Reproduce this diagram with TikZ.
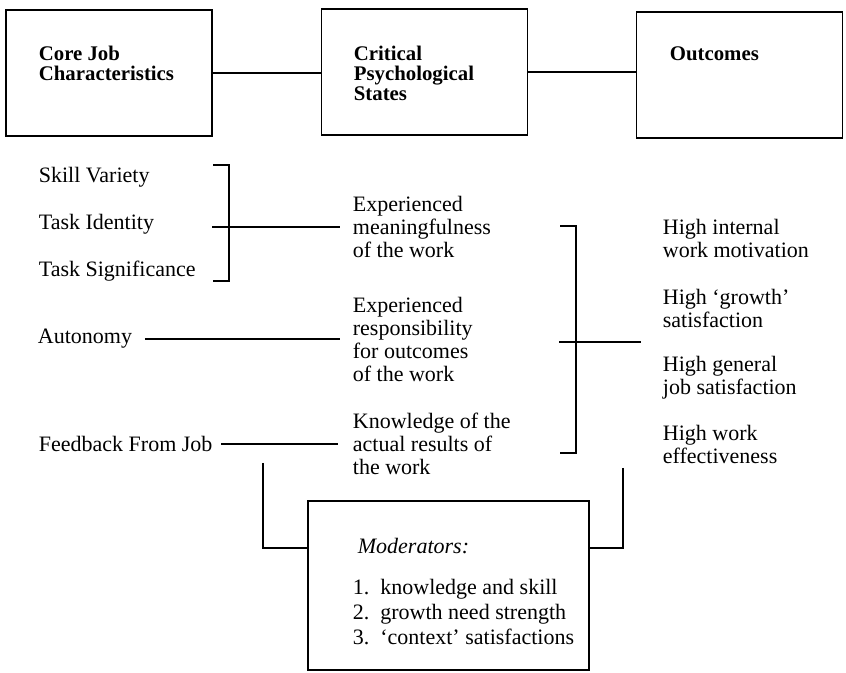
\documentclass[tikz,border=0pt]{standalone}
\usepackage{fontspec}
\setmainfont{Liberation Serif}
\usetikzlibrary{calc}

\tikzset{
  box/.style={draw, minimum width=103pt, minimum height=63pt, inner sep=0pt},
  hdr/.style={anchor=west, align=left, inner sep=0pt, font=\fontsize{10.4}{10}\selectfont\bfseries},
  txt/.style={anchor=west, align=left, inner sep=0pt, font=\fontsize{11}{11.5}\selectfont},
}

\begin{document}
\begin{tikzpicture}[x=0.5pt, y=-0.5pt, line width=0.9pt]
  \useasboundingbox (0,0) rectangle (846,673);
  % three boxes on top
  \node[box] (core) at (109,73) {};
  \node[box] (crit) at (424.5,72) {};
  \node[box] (outc) at (739.5,75) {};
  \draw (core.east) -- (core.east -| crit.west);
  \draw (crit.east) -- (crit.east -| outc.west);
  \node[hdr] (coreT) at (38,63) {Core Job\\Characteristics};
  \node[hdr] (critT) at (353,73) {Critical\\Psychological\\States};
  \node[hdr] (outcT) at (669,54) {Outcomes};

  % core job characteristics
  \node[txt] (skill) at (38,177) {Skill Variety};
  \node[txt] (ident) at (38,224) {Task Identity};
  \node[txt] (signi) at (38,271) {Task Significance};
  \node[txt] (auto) at (37,339) {Autonomy};
  \node[txt] (feed) at (38,444) {Feedback From Job};

  % psychological states
  \node[txt] (mean) at (352,227) {Experienced\\meaningfulness\\of the work};
  \node[txt] (resp) at (352,339) {Experienced\\responsibility\\for outcomes\\of the work};
  \node[txt] (know) at (352,444) {Knowledge of the\\actual results of\\the work};

  % outcomes
  \node[txt] (motiv) at (662,238) {High internal\\work motivation};
  \node[txt] (growth) at (662,308) {High `growth'\\satisfaction};
  \node[txt] (gensat) at (662,378) {High general\\job satisfaction};
  \node[txt] (effect) at (662,444) {High work\\effectiveness};

  % left bracket
  \draw (213,165) -- (229,165) -- (229,281) -- (213,281);
  \draw (212,227) -- ([xshift=-6pt]mean.west);
  \draw ([xshift=6pt]auto.east) -- ([xshift=-6pt]resp.west);
  \draw ([xshift=4pt]feed.east) -- ([xshift=-7pt]know.west);

  % right bracket
  \coordinate (rb) at (576,342);
  \draw (560,226) -- (576,226) -- (576,453) -- (560,453);
  \draw (559,342) -- (rb) -- (641,342);

  % moderators
  \node[draw, minimum width=140.5pt, minimum height=84.5pt, inner sep=0pt] (mod) at (448.5,585.5) {};
  \node[txt, font=\fontsize{11}{11.5}\selectfont\itshape] (modT) at (357,546) {Moderators:};
  \node[txt, font=\fontsize{11}{12.5}\selectfont] (modL) at (352,612)
    {1.\ \ knowledge and skill\\2.\ \ growth need strength\\3.\ \ `context' satisfactions};
  \coordinate (ml) at (263,463);
  \coordinate (mr) at (623,468);
  \draw (ml) |- ([yshift=18.75pt]mod.west);
  \draw (mr) |- ([yshift=18.75pt]mod.east);
\end{tikzpicture}
\end{document}
